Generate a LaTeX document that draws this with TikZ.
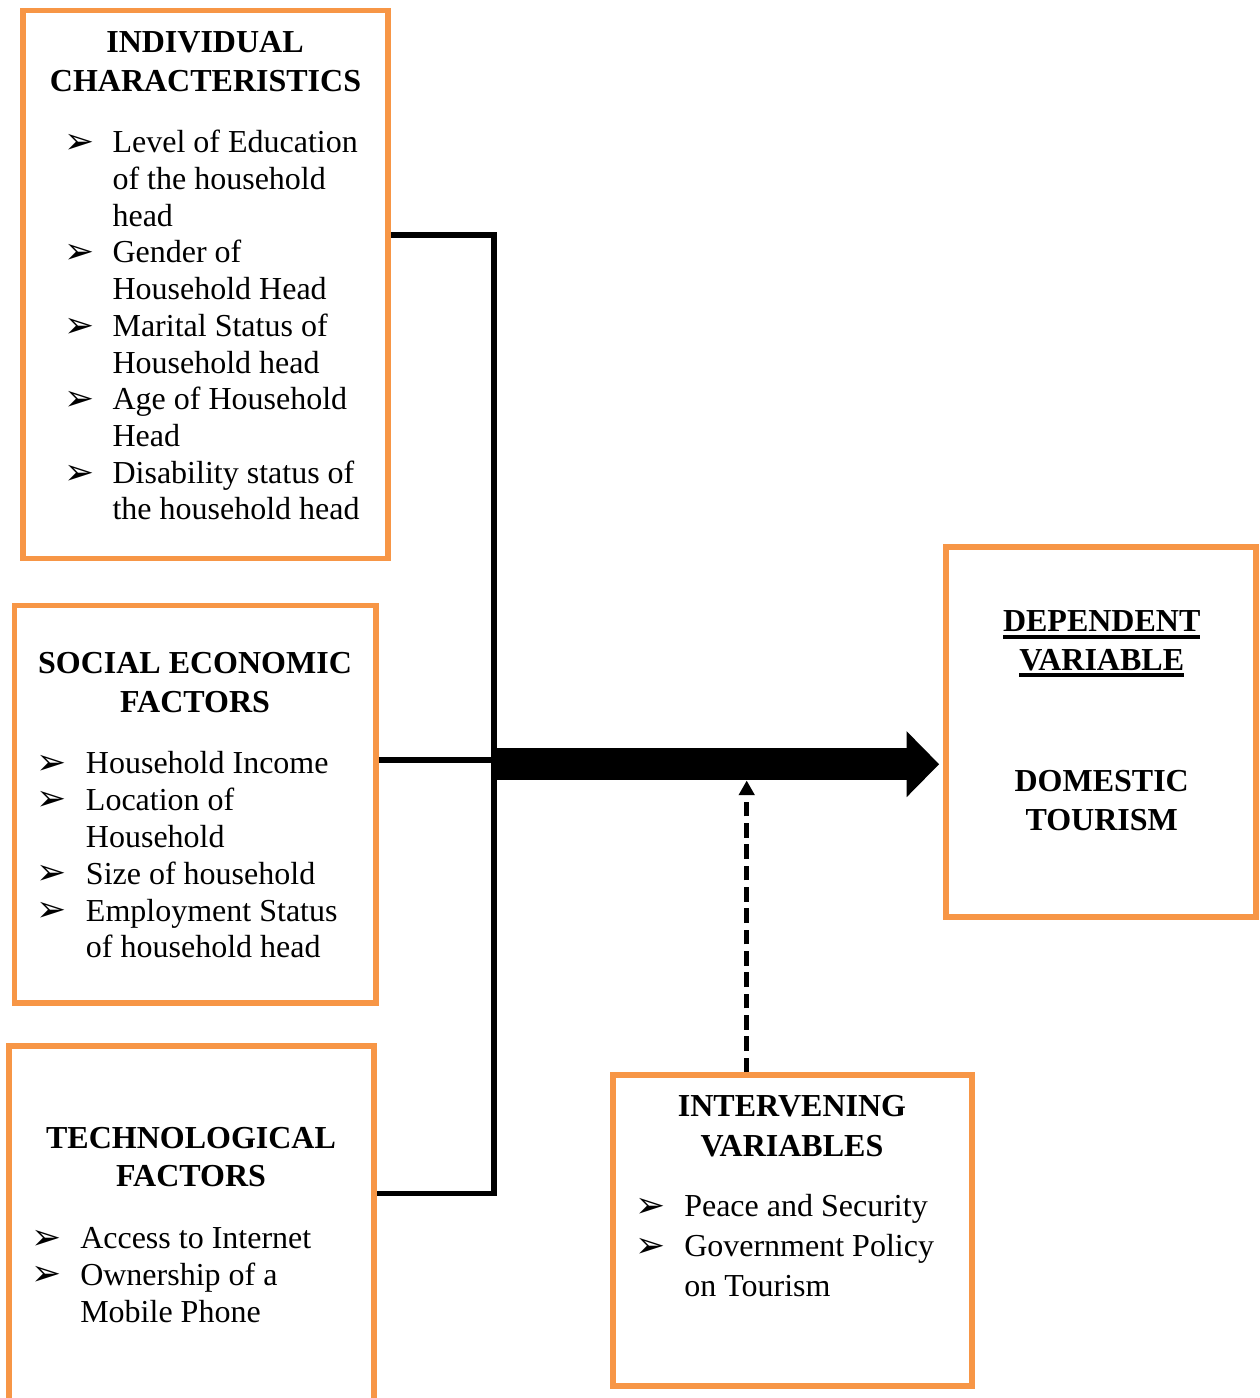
\documentclass[tikz,border=0pt]{standalone}
\usepackage{fontspec}
\setmainfont{Liberation Serif}
\newfontfamily\dvs{DejaVu Sans}
\usetikzlibrary{arrows.meta,fit}
\definecolor{orng}{HTML}{F79646}
\newcommand\myul[1]{\setbox0=\hbox{#1}\rlap{\rule[-5.4pt]{\wd0}{2.8pt}}\box0}
\begin{document}
\begin{tikzpicture}[x=0.75pt,y=-0.75pt,
  box/.style={draw=orng,line width=4.3pt,inner sep=0pt},
  conn/.style={line width=4pt,line join=miter},
  hd/.style={anchor=base,inner sep=0pt,font=\fontsize{24}{28}\selectfont\bfseries},
  itm/.style={anchor=base west,inner sep=0pt,font=\fontsize{24}{28}\selectfont},
  bul/.style={anchor=base west,inner sep=0pt,font=\dvs\fontsize{27}{30}\selectfont}]
\clip (0,0) rectangle (1259,1398);
% boxes
\node[box,fit={(23,10.5) (388,558.5)}] (b1) {};
\node[box,fit={(14.5,605.5) (376,1003)}] (b2) {};
\node[box,fit={(9,1046) (374,1500)}] (b3) {};
\node[box,fit={(613,1075.3) (972,1386)}] (b4) {};
\node[box,fit={(946,547) (1256,917)}] (b5) {};
% box 1
\node[hd] (h1a) at (205,52.7) {INDIVIDUAL};
\node[hd] (h1b) at (205.5,91.7) {CHARACTERISTICS};
\node[bul] (u1a) at (64,153.5) {➢};
\node[bul] (u1b) at (64,263.7) {➢};
\node[bul] (u1c) at (64,337.1) {➢};
\node[bul] (u1d) at (64,410.6) {➢};
\node[bul] (u1e) at (64,484) {➢};
\node[itm] (t1a) at (112.3,152.7) {Level of Education};
\node[itm] (t1b) at (112.3,189.4) {of the household};
\node[itm] (t1c) at (112.3,226.1) {head};
\node[itm] (t1d) at (112.3,262.9) {Gender of};
\node[itm] (t1e) at (112.3,299.6) {Household Head};
\node[itm] (t1f) at (112.3,336.3) {Marital Status of};
\node[itm] (t1g) at (112.3,373.0) {Household head};
\node[itm] (t1h) at (112.3,409.8) {Age of Household};
\node[itm] (t1i) at (112.3,446.5) {Head};
\node[itm] (t1j) at (112.3,483.2) {Disability status of};
\node[itm] (t1k) at (112.3,519.9) {the household head};
% box 2
\node[hd] (h2a) at (195,673.3) {SOCIAL ECONOMIC};
\node[hd] (h2b) at (195,712.7) {FACTORS};
\node[bul] (u2a) at (36.6,774.1) {➢};
\node[bul] (u2b) at (36.6,810.8) {➢};
\node[bul] (u2c) at (36.6,884.8) {➢};
\node[bul] (u2d) at (36.6,921.8) {➢};
\node[itm] (t2a) at (85.7,773.3) {Household Income};
\node[itm] (t2b) at (85.7,810) {Location of};
\node[itm] (t2c) at (85.7,847) {Household};
\node[itm] (t2d) at (85.7,884) {Size of household};
\node[itm] (t2e) at (85.7,921) {Employment Status};
\node[itm] (t2f) at (85.7,957.7) {of household head};
% box 3
\node[hd] (h3a) at (191,1148.3) {TECHNOLOGICAL};
\node[hd] (h3b) at (191,1186.7) {FACTORS};
\node[bul] (u3a) at (31.3,1249.1) {➢};
\node[bul] (u3b) at (31.3,1285.8) {➢};
\node[itm] (t3a) at (80,1248.3) {Access to Internet};
\node[itm] (t3b) at (80,1285) {Ownership of a};
\node[itm] (t3c) at (80,1322) {Mobile Phone};
% box 4
\node[hd] (h4a) at (792,1116.7) {INTERVENING};
\node[hd] (h4b) at (792,1156.7) {VARIABLES};
\node[bul] (u4a) at (635.3,1217.5) {➢};
\node[bul] (u4b) at (635.3,1257.5) {➢};
\node[itm] (t4a) at (684,1216.7) {Peace and Security};
\node[itm] (t4b) at (684,1256.7) {Government Policy};
\node[itm] (t4c) at (684,1296.7) {on Tourism};
% box 5
\node[hd] (h5a) at (1101.7,631.7) {\myul{DEPENDENT}};
\node[hd] (h5b) at (1101.7,670) {\myul{VARIABLE}};
\node[hd] (h5c) at (1101.7,791.7) {DOMESTIC};
\node[hd] (h5d) at (1101.7,830) {TOURISM};
% connectors
\coordinate (jt) at (494,235);
\coordinate (jb) at (494,1193.3);
\coordinate (jm) at (494,760);
\coordinate (ja) at (492,764.2);
\coordinate (dtop) at (746.7,780.5);
\draw[conn] (b1.east |- jt) -- (jt) -- (jb) -- (b3.east |- jb);
\draw[conn] (b2.east |- jm) -- (jm);
\draw[line width=23.8pt,-{Triangle[width=48pt,length=24.4pt]}] (ja) -- ([xshift=-3pt]b5.west |- ja);
\draw[line width=3.75pt,dash pattern=on 11pt off 5pt,-{Triangle[width=11.5pt,length=11pt]}] (b4.north -| dtop) -- (dtop);
\end{tikzpicture}
\end{document}
